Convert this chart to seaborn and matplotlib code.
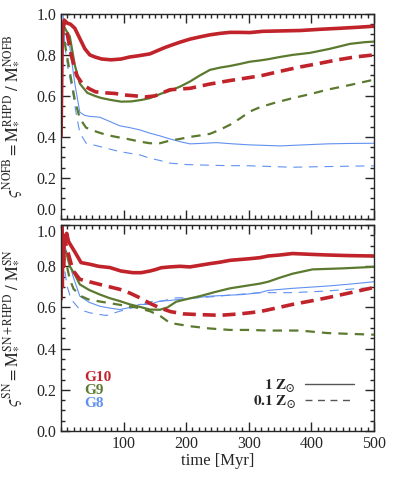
import matplotlib
matplotlib.use("Agg")
import matplotlib.pyplot as plt
from matplotlib.lines import Line2D
from matplotlib.ticker import MultipleLocator, FormatStrFormatter
import seaborn as sns

sns.set_style("ticks")
plt.rcParams["font.family"] = ["Liberation Serif", "DejaVu Serif"]
plt.rcParams["mathtext.fontset"] = "stix"

# colours of the three galaxies
RED = "#c1232b"
GREEN = "#5b7a2f"
BLUE = "#6191f0"

# ---- top panel: no-feedback reference ----
t_g10_1z_top = [0, 2, 5, 10, 15, 22, 30, 38, 46, 54, 65, 80, 96, 110, 122, 142, 165, 174, 190, 206,
                222, 238, 254, 270, 286, 302, 322, 350, 382, 414, 446, 475, 500]
v_g10_1z_top = [0.40, 0.90, 0.97, 0.955, 0.95, 0.93, 0.88, 0.83, 0.80, 0.79, 0.78, 0.776, 0.78, 0.79, 0.795,
                0.805, 0.835, 0.845, 0.862, 0.877, 0.888, 0.898, 0.905, 0.91, 0.91, 0.909, 0.915, 0.917,
                0.919, 0.925, 0.93, 0.935, 0.94]
t_g10_01z_top = [0, 3, 6, 10, 17, 25, 35, 45, 55, 70, 86, 100, 119, 135, 150, 174, 206, 238, 270, 302,
                 322, 350, 380, 410, 440, 470, 500]
v_g10_01z_top = [0.90, 0.95, 0.94, 0.90, 0.79, 0.70, 0.655, 0.635, 0.62, 0.615, 0.612, 0.605, 0.60, 0.595,
                 0.60, 0.63, 0.637, 0.658, 0.675, 0.69, 0.70, 0.72, 0.74, 0.757, 0.775, 0.79, 0.80]
t_g9_1z_top = [0, 3, 8, 14, 22, 30, 42, 54, 64, 80, 96, 112, 128, 142, 155, 166, 174, 190, 206, 222, 238,
               254, 270, 286, 302, 318, 331, 350, 370, 398, 430, 462, 485, 500]
v_g9_1z_top = [0.94, 0.95, 0.92, 0.89, 0.75, 0.66, 0.615, 0.60, 0.59, 0.58, 0.572, 0.573, 0.58, 0.589,
               0.605, 0.618, 0.625, 0.645, 0.67, 0.70, 0.727, 0.738, 0.746, 0.756, 0.767, 0.773, 0.779,
               0.79, 0.80, 0.81, 0.83, 0.854, 0.862, 0.865]
t_g9_01z_top = [0, 3, 8, 15, 22, 30, 40, 56, 72, 88, 106, 126, 142, 158, 174, 190, 206, 222, 238, 254,
                270, 286, 302, 318, 340, 370, 400, 425, 460, 494, 500]
v_g9_01z_top = [0.92, 0.93, 0.82, 0.70, 0.58, 0.49, 0.445, 0.426, 0.41, 0.40, 0.39, 0.377, 0.369, 0.369,
                0.382, 0.39, 0.40, 0.407, 0.415, 0.435, 0.459, 0.49, 0.524, 0.545, 0.565, 0.589, 0.61,
                0.63, 0.652, 0.675, 0.678]
t_g8_1z_top = [0, 1, 3, 5.6, 10, 14, 22, 30, 38, 46, 62, 78, 94, 110, 126, 142, 158, 174, 190, 206, 222,
               248, 275, 302, 331, 350, 380, 425, 460, 500]
v_g8_1z_top = [0.95, 1.02, 1.02, 0.86, 0.85, 0.84, 0.66, 0.52, 0.505, 0.50, 0.496, 0.475, 0.454, 0.445,
               0.434, 0.418, 0.405, 0.39, 0.377, 0.366, 0.368, 0.372, 0.366, 0.361, 0.358, 0.356, 0.36,
               0.366, 0.368, 0.369]
t_g8_01z_top = [0, 2, 5, 8, 11, 19, 25, 30, 40, 62, 94, 126, 142, 158, 174, 200, 222, 262, 302, 340, 370,
                420, 460, 500]
v_g8_01z_top = [0.90, 0.95, 0.88, 0.80, 0.735, 0.61, 0.50, 0.42, 0.37, 0.353, 0.328, 0.312, 0.296, 0.285,
                0.272, 0.265, 0.263, 0.26, 0.259, 0.255, 0.252, 0.255, 0.257, 0.259]

# ---- bottom panel: SN reference ----
t_g10_1z_bot = [0, 1, 2, 3, 4, 5, 7, 9, 12, 16, 22, 32, 46, 60, 78, 96, 115, 128, 142, 152, 160, 174, 190,
                206, 222, 238, 254, 270, 286, 302, 318, 331, 350, 370, 400, 425, 460, 500]
v_g10_1z_bot = [0.64, 1.0, 0.70, 0.95, 0.80, 0.95, 0.93, 0.96, 0.92, 0.90, 0.87, 0.818, 0.81, 0.80, 0.794,
                0.777, 0.769, 0.769, 0.777, 0.785, 0.793, 0.797, 0.80, 0.797, 0.805, 0.813, 0.82, 0.829,
                0.833, 0.837, 0.842, 0.85, 0.855, 0.862, 0.858, 0.855, 0.852, 0.85]
t_g10_01z_bot = [3, 6, 10, 19, 30, 45, 62, 78, 94, 110, 126, 142, 158, 175, 195, 216, 254, 286, 318, 345,
                 370, 400, 425, 460, 494, 500]
v_g10_01z_bot = [0.90, 0.93, 0.88, 0.78, 0.737, 0.725, 0.712, 0.70, 0.688, 0.67, 0.647, 0.62, 0.598, 0.58,
                 0.569, 0.566, 0.562, 0.569, 0.58, 0.598, 0.615, 0.632, 0.647, 0.67, 0.693, 0.697]
t_g9_1z_bot = [0, 3, 8, 14, 22, 30, 45, 62, 78, 94, 110, 126, 142, 158, 170, 184, 200, 222, 246, 270, 295,
               318, 331, 350, 370, 402, 450, 498, 500]
v_g9_1z_bot = [0.80, 0.88, 0.87, 0.80, 0.76, 0.712, 0.685, 0.663, 0.645, 0.631, 0.615, 0.603, 0.59, 0.589,
               0.60, 0.628, 0.64, 0.655, 0.675, 0.693, 0.705, 0.716, 0.725, 0.745, 0.764, 0.785, 0.79,
               0.797, 0.797]
t_g9_01z_bot = [0, 3, 8, 14, 20, 32, 43, 60, 90, 120, 142, 158, 174, 190, 206, 238, 270, 302, 331, 382,
                425, 460, 500]
v_g9_01z_bot = [0.75, 0.85, 0.82, 0.737, 0.69, 0.655, 0.64, 0.63, 0.615, 0.60, 0.582, 0.56, 0.525, 0.517,
                0.509, 0.498, 0.491, 0.491, 0.488, 0.488, 0.476, 0.472, 0.468]
t_g8_1z_bot = [0, 1, 2, 4, 8, 13, 19, 30, 45, 62, 78, 94, 110, 126, 142, 158, 174, 190, 206, 238, 270,
               291, 318, 331, 370, 425, 460, 500]
v_g8_1z_bot = [0.48, 1.0, 0.90, 0.92, 0.88, 0.82, 0.753, 0.655, 0.625, 0.606, 0.597, 0.59, 0.60, 0.615,
               0.615, 0.631, 0.634, 0.64, 0.644, 0.655, 0.66, 0.663, 0.672, 0.683, 0.693, 0.704, 0.713,
               0.725]
t_g8_01z_bot = [0, 2, 5.6, 10, 16, 30, 46, 72, 94, 110, 126, 147, 160, 184, 222, 270, 318, 370, 425, 478,
                500]
v_g8_01z_bot = [0.70, 0.85, 0.785, 0.70, 0.64, 0.59, 0.574, 0.561, 0.582, 0.595, 0.61, 0.631, 0.63, 0.647,
                0.647, 0.66, 0.672, 0.672, 0.68, 0.693, 0.696]

galaxies = ["G10", "G9", "G8"]
colors = [RED, GREEN, BLUE]
widths = [2.6, 1.6, 0.8]
dash_pats = [(0, (3.6, 1.9)), (0, (4.2, 3.2)), (0, (8.0, 6.0))]
yticks = [0.0, 0.2, 0.4, 0.6, 0.8, 1.0]
xticks = [100, 200, 300, 400, 500]

top_series = [(t_g10_1z_top, v_g10_1z_top, t_g10_01z_top, v_g10_01z_top),
              (t_g9_1z_top, v_g9_1z_top, t_g9_01z_top, v_g9_01z_top),
              (t_g8_1z_top, v_g8_1z_top, t_g8_01z_top, v_g8_01z_top)]
bot_series = [(t_g10_1z_bot, v_g10_1z_bot, t_g10_01z_bot, v_g10_01z_bot),
              (t_g9_1z_bot, v_g9_1z_bot, t_g9_01z_bot, v_g9_01z_bot),
              (t_g8_1z_bot, v_g8_1z_bot, t_g8_01z_bot, v_g8_01z_bot)]

fig = plt.figure(figsize=(3.99, 4.8), dpi=100)
ax_top = fig.add_axes([0.153, 0.544, 0.784, 0.427])
ax_bot = fig.add_axes([0.153, 0.102, 0.784, 0.429])


def draw(ax, series):
    # draw back-to-front so the red G10 lines sit on top
    for i in [2, 1, 0]:
        t1, v1, t2, v2 = series[i]
        sns.lineplot(x=t2, y=v2, ax=ax, color=colors[i], lw=widths[i], linestyle=dash_pats[i],
                     estimator=None, sort=False)
        sns.lineplot(x=t1, y=v1, ax=ax, color=colors[i], lw=widths[i], estimator=None, sort=False)
    ax.set_xlim(0, 500)
    ax.set_ylim(0, 1.0)
    ax.set_xticks(xticks)
    ax.set_yticks(yticks)
    ax.xaxis.set_minor_locator(MultipleLocator(10))
    ax.yaxis.set_minor_locator(MultipleLocator(0.05))
    ax.yaxis.set_major_formatter(FormatStrFormatter("%.1f"))
    ax.tick_params(which="both", direction="in", top=True, right=True, labelsize=11.5, width=1)
    ax.tick_params(which="major", length=6.5)
    ax.tick_params(which="minor", length=3.2)
    for sp in ax.spines.values():
        sp.set_linewidth(1.0)
    ax.set_xlabel("")


draw(ax_top, top_series)
draw(ax_bot, bot_series)

ax_top.set_xticklabels([])
ax_bot.set_xlabel("time [Myr]", fontsize=12, labelpad=1)

# keep the 0.0 / 1.0 labels where the panels meet from running into each other
ax_top.yaxis.get_major_ticks()[0].label1.set_va("bottom")
ax_bot.yaxis.get_major_ticks()[-1].label1.set_va("top")

ax_top.set_ylabel(r"$\varsigma^{\rm NOFB} = \mathrm{M}_{*}^{\rm RHPD}\ /\ \mathrm{M}_{*}^{\rm NOFB}$",
                  fontsize=12, labelpad=3)
ax_bot.set_ylabel(r"$\varsigma^{\rm SN} = \mathrm{M}_{*}^{\rm SN+RHPD}\ /\ \mathrm{M}_{*}^{\rm SN}$",
                  fontsize=12, labelpad=3)
ax_top.yaxis.set_label_coords(-0.115, 0.5)
ax_bot.yaxis.set_label_coords(-0.115, 0.5)

# galaxy names in their colours
for name, c, yy in zip(galaxies, colors, [0.262, 0.197, 0.132]):
    ax_bot.text(0.075, yy, name, color=c, fontsize=11, fontweight="bold",
                transform=ax_bot.transAxes, va="center", ha="left")

handles = [Line2D([], [], color="#555555", lw=1.0),
           Line2D([], [], color="#555555", lw=1.0, linestyle=(0, (5, 4)))]
leg = ax_bot.legend(handles, [r"$\mathbf{1\ Z_{\odot}}$", r"$\mathbf{0.1\ Z_{\odot}}$"],
                    loc="lower right", bbox_to_anchor=(0.97, 0.05), frameon=False, markerfirst=False,
                    handlelength=3.2, handletextpad=0.6, labelspacing=-0.05, fontsize=11,
                    borderpad=0.2)
for txt in leg.get_texts():
    txt.set_ha("right")

fig.savefig("out.png", dpi=100)
